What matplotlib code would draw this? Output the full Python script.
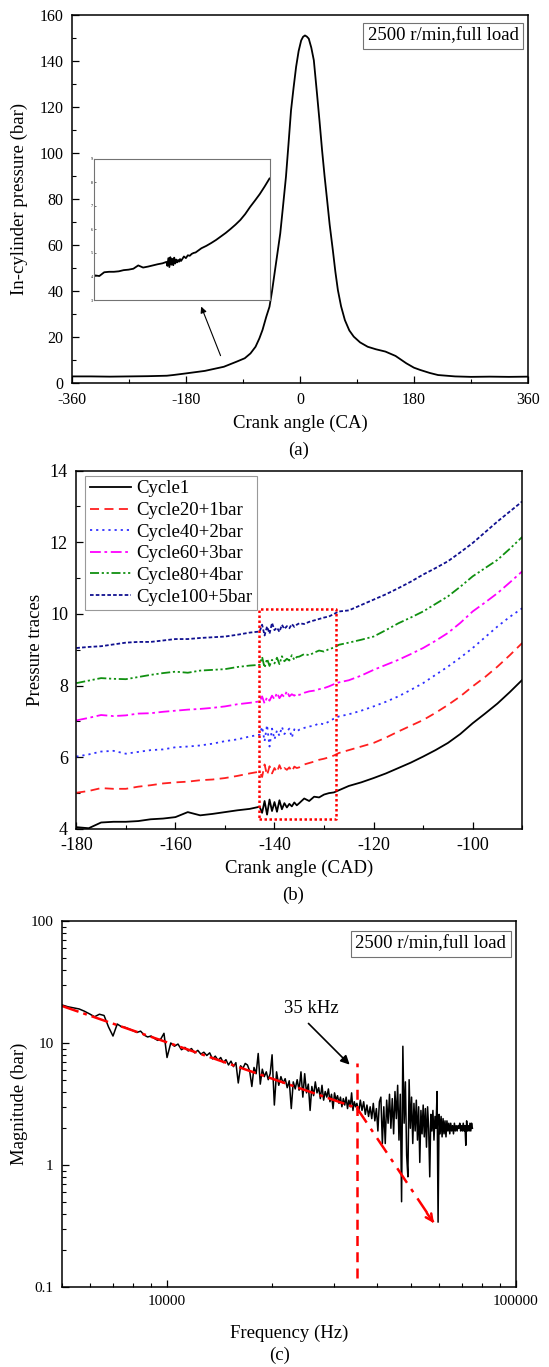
import numpy as np
import matplotlib
matplotlib.use("Agg")
import matplotlib.pyplot as plt
from matplotlib.ticker import MultipleLocator, FuncFormatter

plt.rcParams['font.family'] = ['Liberation Serif', 'DejaVu Serif']
plt.rcParams['axes.unicode_minus'] = False

# (a) in-cylinder pressure over a full cycle
crank_a = [-360, -330, -300, -270, -240, -210, -200, -180, -150, -120, -100, -87, -78, -70,
           -64, -59, -53, -48, -44, -40, -36, -31, -27, -22, -18, -14, -10, -6, -2, 2, 5,
           8, 11, 14, 18, 22, 27, 31, 35, 39, 43, 47, 52, 56, 60, 65, 71, 78, 85, 95, 107,
           120, 135, 151, 168, 180, 190, 205, 218, 245, 270, 300, 330, 360]
press_a = [3.0, 3.0, 2.9, 3.0, 3.1, 3.3, 3.6, 4.3, 5.4, 7.2, 9.4, 10.9, 13.0, 15.9,
           19.5, 23.2, 29.0, 33.3, 40.0, 47.8, 55.5, 65.2, 76.0, 89.8, 104.0, 118.7, 128.5,
           137.6, 144.5, 149.1, 150.7, 151.3, 150.8, 149.9, 146.0, 140.5, 126.0, 114.0, 101.4,
           90.0, 79.6, 69.0, 57.9, 48.5, 40.5, 33.5, 27.5, 23.0, 20.3, 17.8, 15.9, 14.8,
           13.8, 11.9, 8.7, 6.8, 5.8, 4.5, 3.6, 3.0, 2.8, 2.9, 2.8, 2.9]

# (b) pressure traces near the knock onset, shifted by 1 bar per cycle
crank_b = np.concatenate([np.arange(-180, -144.9, 2.5),
                          np.arange(-143, -135.4, 0.5),
                          np.arange(-135, -126.9, 1.0),
                          np.arange(-125, -89.9, 2.5)])

cycle1 = [4.05, 4.02, 4.18, 4.20, 4.20, 4.22, 4.27, 4.29, 4.33, 4.47, 4.38, 4.42, 4.47, 4.52, 4.56,
          4.62, 4.45, 4.78, 4.40, 4.82, 4.50, 4.75, 4.48, 4.80, 4.55, 4.72, 4.60, 4.70, 4.63, 4.74, 4.66,
          4.72, 4.85, 4.78, 4.90, 4.88, 4.96, 5.00, 5.02, 5.08,
          5.20, 5.30, 5.42, 5.55, 5.70, 5.85, 6.02, 6.20, 6.40, 6.65, 6.95, 7.22, 7.50, 7.82, 8.16]
cycle20 = [5.01, 5.06, 5.14, 5.12, 5.12, 5.18, 5.22, 5.27, 5.30, 5.32, 5.36, 5.38, 5.42, 5.48, 5.55,
           5.60, 5.45, 5.80, 5.50, 5.75, 5.55, 5.70, 5.58, 5.78, 5.62, 5.70, 5.65, 5.72, 5.60, 5.74, 5.70,
           5.72, 5.80, 5.84, 5.88, 5.93, 5.96, 6.00, 6.05, 6.12,
           6.20, 6.30, 6.40, 6.55, 6.72, 6.88, 7.04, 7.24, 7.46, 7.70, 7.98, 8.24, 8.53, 8.85, 9.19]
cycle40 = [6.02, 6.08, 6.16, 6.18, 6.10, 6.15, 6.20, 6.22, 6.28, 6.30, 6.33, 6.38, 6.45, 6.50, 6.58,
           6.63, 6.85, 6.45, 6.90, 6.30, 6.80, 6.50, 6.75, 6.60, 6.85, 6.65, 6.72, 6.80, 6.55, 6.78, 6.72,
           6.77, 6.82, 6.86, 6.88, 6.95, 6.92, 7.00, 7.08, 7.14,
           7.20, 7.30, 7.42, 7.55, 7.70, 7.88, 8.07, 8.30, 8.53, 8.78, 9.05, 9.35, 9.65, 9.92, 10.16]
cycle60 = [7.03, 7.10, 7.18, 7.15, 7.17, 7.22, 7.23, 7.27, 7.30, 7.33, 7.35, 7.38, 7.42, 7.48, 7.52,
           7.56, 7.70, 7.50, 7.68, 7.58, 7.72, 7.62, 7.80, 7.65, 7.75, 7.68, 7.85, 7.70, 7.76, 7.72, 7.78,
           7.74, 7.80, 7.84, 7.86, 7.90, 7.93, 7.98, 8.04, 8.09,
           8.15, 8.28, 8.44, 8.58, 8.72, 8.88, 9.05, 9.25, 9.47, 9.75, 10.07, 10.32, 10.58, 10.88, 11.19]
cycle80 = [8.07, 8.14, 8.21, 8.19, 8.18, 8.24, 8.30, 8.35, 8.39, 8.36, 8.42, 8.44, 8.46, 8.52, 8.56,
           8.58, 8.80, 8.50, 8.75, 8.55, 8.72, 8.62, 8.78, 8.60, 8.82, 8.68, 8.75, 8.70, 8.85, 8.72, 8.80,
           8.81, 8.88, 8.85, 8.92, 8.98, 8.95, 9.02, 9.06, 9.14,
           9.20, 9.28, 9.37, 9.55, 9.74, 9.90, 10.07, 10.28, 10.49, 10.76, 11.05, 11.28, 11.51, 11.82, 12.15]
cycle100 = [9.05, 9.08, 9.10, 9.15, 9.20, 9.22, 9.22, 9.26, 9.30, 9.30, 9.33, 9.35, 9.37, 9.42, 9.48,
            9.51, 9.70, 9.40, 9.65, 9.45, 9.75, 9.55, 9.62, 9.50, 9.70, 9.58, 9.66, 9.60, 9.72, 9.64, 9.70,
            9.74, 9.72, 9.78, 9.82, 9.86, 9.90, 9.93, 10.00, 10.07,
            10.10, 10.25, 10.40, 10.55, 10.72, 10.90, 11.10, 11.28, 11.47, 11.72, 11.98, 12.28, 12.58, 12.86, 13.14]

cycle_labels = ["Cycle1", "Cycle20+1bar", "Cycle40+2bar", "Cycle60+3bar", "Cycle80+4bar", "Cycle100+5bar"]

# knock window marked on (b)
knock_window = (-143.2, -127.5, 4.28, 10.14)

# (c) spectrum of the pressure signal
freq = np.concatenate([np.arange(5000, 9999, 200),
                       np.arange(10000, 19999, 250),
                       np.arange(20000, 34999, 300),
                       np.arange(35000, 75001, 400)])
magnitude = [
    # 5000 - 9800 Hz
    20.5, 19.8, 19.4, 19.0, 18.2, 17.3, 16.4, 17.2, 16.8, 13.5, 11.4, 14.3, 13.6, 13.4, 13.0,
    12.6, 12.2, 12.5, 11.6, 11.2, 11.4, 10.9, 10.5, 10.8, 12.0,
    # 10000 - 19750 Hz
    7.6, 10.0, 9.4, 9.8, 8.8, 9.2, 8.6, 9.0, 8.3, 8.7, 8.1, 8.4, 7.9, 8.3, 7.4, 7.8, 7.2, 7.6,
    6.9, 7.3, 6.6, 7.1, 6.4, 6.9, 4.7, 6.5, 6.2, 6.8, 6.6, 5.9, 4.4, 6.3, 5.6, 8.2, 4.6, 6.1,
    5.3, 5.8, 5.0, 5.6,
    # 20000 - 34700 Hz
    8.0, 3.1, 5.8, 4.5, 5.3, 4.7, 5.1, 4.3, 4.9, 2.9, 4.8, 4.2, 5.0, 4.1, 5.8, 3.6, 5.6, 3.9,
    4.6, 2.8, 4.4, 3.7, 4.8, 3.9, 4.3, 3.5, 4.5, 3.4, 4.0, 3.6, 4.2, 3.3, 3.8, 2.9, 3.9, 3.4,
    3.7, 3.2, 3.6, 3.0, 3.5, 3.1, 3.6, 2.9, 3.4, 3.0, 3.9, 2.8, 3.3, 3.0,
    # 35000 - 75000 Hz
    3.2, 2.7, 3.4, 2.8, 3.3, 2.6, 3.1, 2.5, 3.0, 2.4, 3.2, 2.3, 2.9, 1.9, 3.3, 3.6, 1.5, 3.0,
    1.5, 3.4, 2.2, 3.8, 2.0, 3.5, 1.8, 4.0, 2.4, 4.5, 1.6, 3.8, 0.5, 9.4, 2.2, 4.8, 1.2, 0.8,
    5.0, 2.0, 3.6, 1.5, 3.2, 1.9, 3.4, 1.6, 3.0, 1.05, 2.8, 1.8, 3.1, 1.7, 2.9, 1.4, 3.0, 2.0,
    0.8, 2.6, 1.9, 2.8, 1.6, 2.5, 2.0, 4.0, 0.34, 2.6, 1.8, 2.5, 1.7, 2.4, 1.8, 2.3, 1.7, 2.3,
    1.9, 2.2, 1.8, 2.2, 1.9, 2.1, 1.8, 2.2, 1.9, 2.1, 1.9, 2.1, 2.0, 2.2, 1.9, 2.1, 1.9, 2.2,
    1.9, 2.1, 1.45, 2.3, 1.9, 2.1, 1.9, 2.2, 1.9, 2.2, 2.0]

# fitted decay line and the knock frequency
trend_freq = [5000, 35000, 58800]
trend_mag = [20.1, 2.93, 0.32]
knock_freq = 35000


def style_ticks(ax, size):
    ax.tick_params(which='both', direction='in', top=False, right=False, labelsize=size)
    ax.tick_params(which='major', length=5, width=0.9)
    ax.tick_params(axis='x', which='major', pad=6)
    ax.tick_params(axis='y', which='major', pad=6)
    ax.tick_params(which='minor', length=3, width=0.8)
    for s in ax.spines.values():
        s.set_linewidth(1.1)


fig = plt.figure(figsize=(5.49, 13.67), dpi=100)

# ---- (a)
ax_a = fig.add_axes([0.1308, 0.7196, 0.8309, 0.2691])
ax_a.plot(crank_a, press_a, color='black', lw=1.3)
ax_a.set_xlim(-360, 360)
ax_a.set_ylim(0, 160)
ax_a.xaxis.set_major_locator(MultipleLocator(180))
ax_a.xaxis.set_minor_locator(MultipleLocator(90))
ax_a.yaxis.set_major_locator(MultipleLocator(20))
ax_a.yaxis.set_minor_locator(MultipleLocator(10))
style_ticks(ax_a, 11.5)
ax_a.set_xlabel("Crank angle (CA)", fontsize=13.5, labelpad=5)
ax_a.set_ylabel("In-cylinder pressure (bar)", fontsize=13.5, labelpad=8)
ax_a.text(0.979, 0.968, "2500 r/min,full load", transform=ax_a.transAxes, ha='right', va='top',
          fontsize=13.5, bbox=dict(boxstyle='square,pad=0.25', fc='white', ec='0.45', lw=0.8))
ax_a.annotate('', xy=(-157.4, 34.5), xytext=(-123.6, 10.9),
              arrowprops=dict(arrowstyle='-|>', color='black', lw=0.8, mutation_scale=9))

# zoomed view of cycle 1
ax_in = fig.add_axes([0.1721, 0.7805, 0.3188, 0.1034])
ax_in.plot(crank_b, cycle1, color='black', lw=1.3)
ax_in.set_xlim(-180, -90)
ax_in.set_ylim(3, 9)
ax_in.yaxis.set_major_locator(MultipleLocator(1))
ax_in.tick_params(direction='in', labelsize=3, length=1.5, width=0.4, pad=1)
ax_in.set_xticks([])
for s in ax_in.spines.values():
    s.set_edgecolor('0.45')
    s.set_linewidth(0.8)

fig.text(0.5446, 0.6708, "(a)", ha='center', va='center', fontsize=13.5)

# ---- (b)
ax_b = fig.add_axes([0.139, 0.3936, 0.8122, 0.2621])
traces = [cycle1, cycle20, cycle40, cycle60, cycle80, cycle100]
colors = ['black', '#ff2020', '#3030ff', '#ff00ff', '#109010', '#101090']
styles = ['-', (0, (5, 3)), (0, (1.2, 2.2)), (0, (6, 2, 1.5, 2)), (0, (5, 1.5, 1.2, 1.5, 1.2, 1.5)),
          (0, (2, 1.2))]
for y, c, ls, lab in zip(traces, colors, styles, cycle_labels):
    ax_b.plot(crank_b, y, color=c, ls=ls, lw=1.3, label=lab)
x0, x1, y0, y1 = knock_window
ax_b.plot([x0, x1, x1, x0, x0], [y0, y0, y1, y1, y0], color='red', ls=(0, (1, 1)), lw=1.8)
ax_b.set_xlim(-180, -90)
ax_b.set_ylim(4, 14)
ax_b.xaxis.set_major_locator(MultipleLocator(20))
ax_b.xaxis.set_minor_locator(MultipleLocator(10))
ax_b.yaxis.set_major_locator(MultipleLocator(2))
ax_b.yaxis.set_minor_locator(MultipleLocator(1))
style_ticks(ax_b, 13)
ax_b.set_xlabel("Crank angle (CAD)", fontsize=13.5, labelpad=4)
ax_b.set_ylabel("Pressure traces", fontsize=13.5, labelpad=4)
leg = ax_b.legend(loc='upper left', bbox_to_anchor=(0.0195, 0.986), borderaxespad=0, fontsize=13.5,
                  fancybox=False, edgecolor='0.5', handlelength=2.2, handletextpad=0.3,
                  labelspacing=0.24, borderpad=0.25)
leg.get_frame().set_linewidth(0.8)
fig.text(0.534, 0.3453, "(b)", ha='center', va='center', fontsize=13.5)

# ---- (c)
ax_c = fig.add_axes([0.1129, 0.0585, 0.827, 0.2678])
ax_c.plot(freq, magnitude, color='black', lw=1.1)
ax_c.plot(trend_freq[:2], trend_mag[:2], color='red', ls=(0, (7, 2, 1.5, 2)), lw=1.8)
ax_c.plot(trend_freq[1:], trend_mag[1:], color='red', ls=(0, (7, 3, 1.5, 3)), lw=1.8)
ax_c.annotate('', xy=(trend_freq[2], trend_mag[2]), xytext=(55000, 0.42),
              arrowprops=dict(arrowstyle='->', color='red', lw=1.8, mutation_scale=12))
ax_c.plot([knock_freq, knock_freq], [0.119, 6.85], color='red', ls=(0, (4, 2.5)), lw=1.8)
ax_c.set_xscale('log')
ax_c.set_yscale('log')
ax_c.set_xlim(5000, 100000)
ax_c.set_ylim(0.1, 100)
ax_c.xaxis.set_major_formatter(FuncFormatter(lambda v, p: '%d' % v))
ax_c.yaxis.set_major_formatter(FuncFormatter(lambda v, p: '%g' % v))
style_ticks(ax_c, 11)
ax_c.set_xlabel("Frequency (Hz)", fontsize=13.5, labelpad=12)
ax_c.set_ylabel("Magnitude (bar)", fontsize=13.5, labelpad=2)
ax_c.text(0.9786, 0.960, "2500 r/min,full load", transform=ax_c.transAxes, ha='right', va='top',
          fontsize=13.5, bbox=dict(boxstyle='square,pad=0.25', fc='white', ec='0.45', lw=0.8))
ax_c.text(25900, 19.2, "35 kHz", ha='center', va='center', fontsize=13.5)
ax_c.annotate('', xy=(33800, 6.4), xytext=(25100, 15),
              arrowprops=dict(arrowstyle='-|>', color='black', lw=1.2, mutation_scale=13))
fig.text(0.51, 0.0088, "(c)", ha='center', va='center', fontsize=13.5)

fig.savefig("out.png", dpi=100)
